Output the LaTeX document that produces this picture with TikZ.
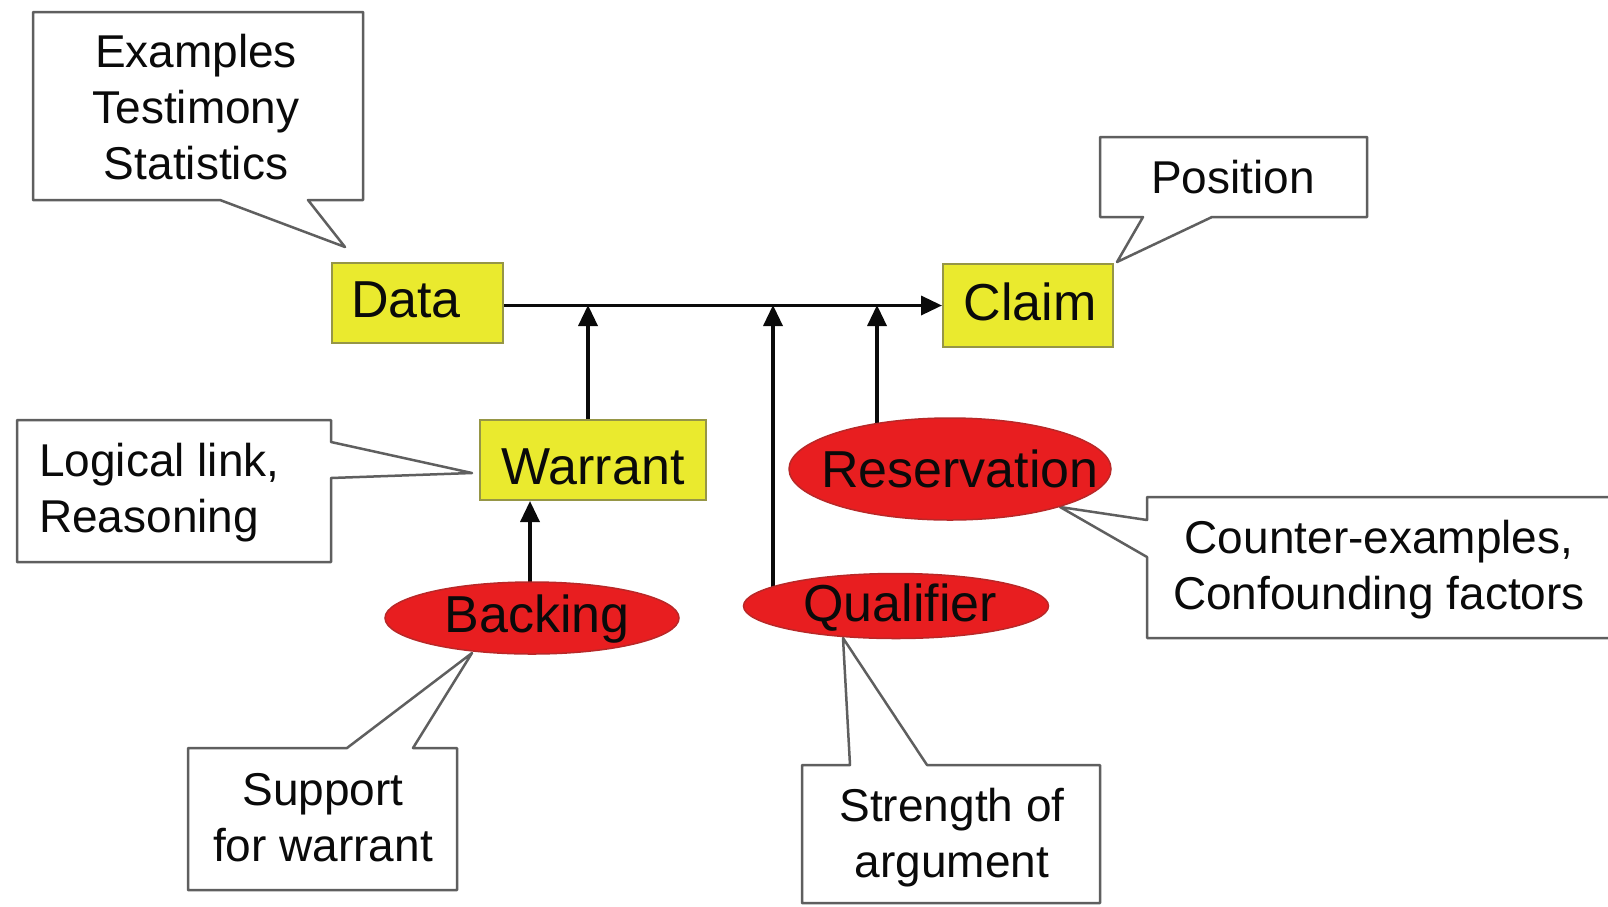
\documentclass[tikz,border=0pt]{standalone}
\usepackage{fontspec}
\setmainfont{Liberation Sans}
\usetikzlibrary{arrows.meta,backgrounds,shapes.geometric}
\definecolor{boxyellow}{RGB}{234,234,46}
\definecolor{boxyedge}{RGB}{150,150,70}
\definecolor{ellred}{RGB}{232,30,32}
\definecolor{elledge}{RGB}{185,40,40}
\definecolor{callgray}{RGB}{95,95,95}
\definecolor{ink}{RGB}{10,10,10}
\begin{document}
\begin{tikzpicture}[x=1pt,y=-1pt,
  ybox/.style={draw=boxyedge, line width=2pt, fill=boxyellow, inner sep=0pt},
  rell/.style={ellipse, draw=elledge, line width=1.5pt, fill=ellred, inner sep=0pt},
  mtext/.style={font=\fontsize{52}{62}\selectfont, text height=37pt, text depth=0pt, inner sep=0pt, text=ink},
  ctext/.style={font=\fontsize{46}{56}\selectfont, inner sep=0pt, text=ink},
  callout/.style={draw=callgray, line width=2.5pt, fill=white, line join=round},
  arr/.style={draw=ink, line width=3.5pt, -{Triangle[length=21pt,width=19pt]}},
]
\useasboundingbox (0,0) rectangle (1608,906);
\clip (0,0) rectangle (1608,906);

% callouts
\draw[callout] (33,12) -- (363,12) -- (363,200) -- (308,200) -- (345,247) -- (220,200) -- (33,200) -- cycle;
\node[ctext, align=center] (exnote) at (196,107) {Examples\\Testimony\\Statistics};

\draw[callout] (1100,137) -- (1367,137) -- (1367,217) -- (1212,217) -- (1117,262) -- (1143,217) -- (1100,217) -- cycle;
\node[ctext, text height=33pt, text depth=0pt] (posnote) at (1233,177) {Position};

\draw[callout] (17,420) -- (331,420) -- (331,442) -- (472,473) -- (331,478) -- (331,562) -- (17,562) -- cycle;
\node[ctext, align=left, anchor=west] (lognote) at (39,493) {Logical link,\\Reasoning};

\draw[callout] (188,748) -- (347,748) -- (472,653) -- (413,748) -- (457,748) -- (457,890) -- (188,890) -- cycle;
\node[ctext, align=center] (supnote) at (323,818) {Support\\for warrant};

\draw[callout] (802,765) -- (850,765) -- (843,638) -- (927,765) -- (1100,765) -- (1100,903) -- (802,903) -- cycle;
\node[ctext, align=center] (strnote) at (952,838) {Strength of\\argument};

\draw[callout] (1147,497) -- (1625,497) -- (1625,638) -- (1147,638) -- (1147,557) -- (1060,507) -- (1147,520) -- cycle;
\node[ctext, align=center] (counote) at (1379,570) {Counter-examples,\\Confounding factors};

% main nodes
\node[ybox, minimum width=171pt, minimum height=80pt] (data) at (417.5,303) {};
\node[mtext] (datat) at (406,299) {Data};
\node[ybox, minimum width=170pt, minimum height=83pt] (claim) at (1028,305.5) {};
\node[mtext] (claimt) at (1030,302) {Claim};
\node[ybox, minimum width=226pt, minimum height=80pt] (warrant) at (593,460) {};
\node[mtext] (warrantt) at (593,466) {Warrant};
\node[rell, minimum width=294pt, minimum height=72pt] (back) at (532,618) {};
\node[mtext] (backt) at (537,614) {Backing};
\node[rell, minimum width=305pt, minimum height=65pt] (qual) at (896,606) {};
\node[mtext] (qualt) at (900,603) {Qualifier};
\node[rell, minimum width=322pt, minimum height=102pt] (res) at (950,469) {};
\node[mtext] (rest) at (960,469) {Reservation};

% junctions
\coordinate (j1) at (588,305);
\coordinate (j2) at (773,305);
\coordinate (j3) at (877,305);
\coordinate (bx) at (530,560);

\draw[arr] (data.east |- claim.west) -- (claim.west);
\draw[arr] (warrant.north -| j1) -- (j1);
\begin{pgfonlayer}{background}
\draw[arr] (qual.center -| j2) -- (j2);
\draw[arr] (res.center -| j3) -- (j3);
\draw[arr] (back.center -| bx) -- (warrant.south -| bx);
\end{pgfonlayer}
\end{tikzpicture}
\end{document}
